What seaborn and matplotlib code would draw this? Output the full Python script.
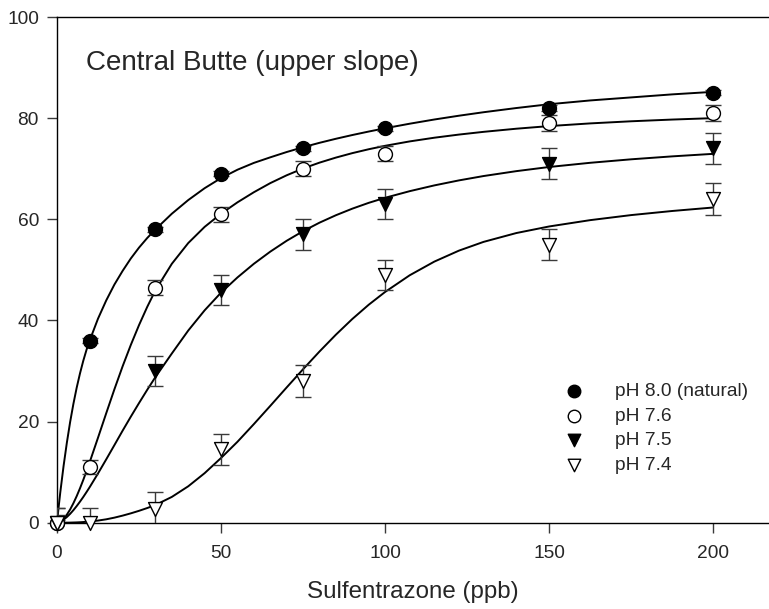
import numpy as np
import pandas as pd
import seaborn as sns
import matplotlib.pyplot as plt

# Measured points (Sulfentrazone ppb vs response)
series_names = ["pH 8.0 (natural)", "pH 7.6", "pH 7.5", "pH 7.4"]

x_80 = [0, 10, 30, 50, 75, 100, 150, 200]
y_80 = [0, 36, 58, 69, 74, 78, 82, 85]
e_80 = [0.5, 0.5, 0.5, 0.5, 0.5, 0.5, 0.5, 0.5]

x_76 = [0, 10, 30, 50, 75, 100, 150, 200]
y_76 = [0, 11, 46.5, 61, 70, 73, 79, 81]
e_76 = [1.5, 1.4, 1.5, 1.5, 1.5, 1.5, 1.6, 1.5]

x_75 = [0, 30, 50, 75, 100, 150, 200]
y_75 = [0, 30, 46, 57, 63, 71, 74]
e_75 = [3, 3, 3, 3, 3, 3, 3]

x_74 = [0, 10, 30, 50, 75, 100, 150, 200]
y_74 = [0, 0, 2.8, 14.5, 28, 49, 55, 64]
e_74 = [3, 3, 3.3, 3.1, 3.1, 3, 3, 3.1]

# Fitted curves
curve_x = [0, 0.5, 1, 2, 3, 4, 5, 6, 7, 8, 9, 10, 12.5, 15, 17.5, 20, 22.5,
           25, 27.5, 30, 35, 40, 45, 50, 55, 60, 65, 70, 75, 80, 85, 90, 95,
           100, 107.5, 115, 122.5, 130, 140, 150, 162.5, 175, 187.5, 200]
curve_80 = [0, 3.1, 6.0, 11.2, 15.8, 19.9, 23.5, 26.7, 29.5, 32.0, 34.2, 36.1,
            40.35, 43.95, 47.1, 49.8, 52.25, 54.4, 56.3, 58.0, 61.1, 63.8,
            66.15, 68.15, 69.8, 71.15, 72.25, 73.3, 74.25, 75.12, 75.92, 76.66,
            77.35, 78.0, 78.9, 79.73, 80.48, 81.17, 82.0, 82.75, 83.5, 84.1,
            84.7, 85.2]
curve_76 = [0, 0.06, 0.22, 0.77, 1.58, 2.61, 3.85, 5.25, 6.79, 8.45, 10.21,
            12.04, 16.81, 21.64, 26.39, 30.93, 35.16, 39.08, 42.68, 45.96,
            51.2, 55.3, 58.5, 61.1, 63.35, 65.35, 67.15, 68.7, 70.05, 71.2,
            72.2, 73.08, 73.85, 74.53, 75.4, 76.13, 76.75, 77.29, 77.91, 78.43,
            78.96, 79.38, 79.72, 80.0]
curve_75 = [0, 0.06, 0.19, 0.59, 1.12, 1.75, 2.48, 3.29, 4.16, 5.08, 6.06,
            7.07, 9.74, 12.52, 15.35, 18.2, 20.97, 23.66, 26.28, 28.8, 33.46,
            38.0, 42.0, 45.5, 48.5, 51.2, 53.6, 55.75, 57.65, 59.33, 60.8,
            62.1, 63.25, 64.25, 65.56, 66.7, 67.69, 68.55, 69.52, 70.34, 71.17,
            71.86, 72.44, 72.94]
curve_74 = [0, 0, 0, 0.005, 0.01, 0.02, 0.04, 0.06, 0.09, 0.13, 0.18, 0.24,
            0.42, 0.67, 1.0, 1.4, 1.85, 2.35, 2.9, 3.5, 5.1, 7.2, 9.8, 12.8,
            16.0, 19.5, 23.1, 26.75, 30.35, 33.85, 37.18, 40.28, 43.1, 45.63,
            48.93, 51.63, 53.8, 55.53, 57.28, 58.58, 59.83, 60.83, 61.64, 62.33]

points = pd.concat([
    pd.DataFrame({"x": x_80, "y": y_80, "err": e_80, "series": series_names[0]}),
    pd.DataFrame({"x": x_76, "y": y_76, "err": e_76, "series": series_names[1]}),
    pd.DataFrame({"x": x_75, "y": y_75, "err": e_75, "series": series_names[2]}),
    pd.DataFrame({"x": x_74, "y": y_74, "err": e_74, "series": series_names[3]}),
])
curves = pd.concat([
    pd.DataFrame({"x": curve_x, "y": c, "series": s})
    for c, s in zip([curve_80, curve_76, curve_75, curve_74], series_names)
])

sns.set_style("ticks")
plt.rcParams["font.family"] = ["Liberation Sans", "DejaVu Sans"]

fig = plt.figure(figsize=(7.69, 6.09), dpi=100)
ax = fig.add_axes([57 / 769, 86.3 / 609, 712 / 769, 505.7 / 609])

sns.lineplot(data=curves, x="x", y="y", units="series", estimator=None,
             color="black", linewidth=1.4, ax=ax, legend=False)

for s in series_names:
    d = points[points["series"] == s]
    ax.errorbar(d["x"], d["y"], yerr=d["err"], fmt="none", ecolor="#3a3a3a",
                elinewidth=1, capsize=5.5, capthick=1, zorder=3)

styles = {
    "pH 8.0 (natural)": ("o", "black"),
    "pH 7.6": ("o", "white"),
    "pH 7.5": ("v", "black"),
    "pH 7.4": ("v", "white"),
}
for s in series_names:
    d = points[points["series"] == s]
    mk, fc = styles[s]
    sns.scatterplot(x=d["x"], y=d["y"], marker=mk, s=100,
                    color=fc, edgecolor="black", linewidth=1, ax=ax,
                    label=s, zorder=4, clip_on=False)

ax.set_xlim(0, 217)
ax.set_ylim(0, 100)
ax.set_xticks([0, 50, 100, 150, 200])
ax.set_yticks([0, 20, 40, 60, 80, 100])
ax.tick_params(axis="both", direction="out", length=7, width=1,
               color="#3a3a3a", labelsize=13.8, pad=6)
ax.tick_params(axis="x", pad=9)
for side in ["left", "top", "bottom"]:
    ax.spines[side].set_visible(True)
    ax.spines[side].set_color("black")
    ax.spines[side].set_linewidth(1)
ax.spines["right"].set_visible(False)

ax.set_xlabel("Sulfentrazone (ppb)", fontsize=17.4, labelpad=14)
ax.set_ylabel("")
ax.text(8.8, 91, "Central Butte (upper slope)", fontsize=20, va="center",
        ha="left")

ax.legend(loc="upper left", bbox_to_anchor=(0.712, 0.277), frameon=False,
          fontsize=13.8, handlelength=1.0, handletextpad=1.65,
          labelspacing=0.37, borderpad=0, borderaxespad=0, markerscale=0.9)

fig.savefig("out.png", dpi=100)
